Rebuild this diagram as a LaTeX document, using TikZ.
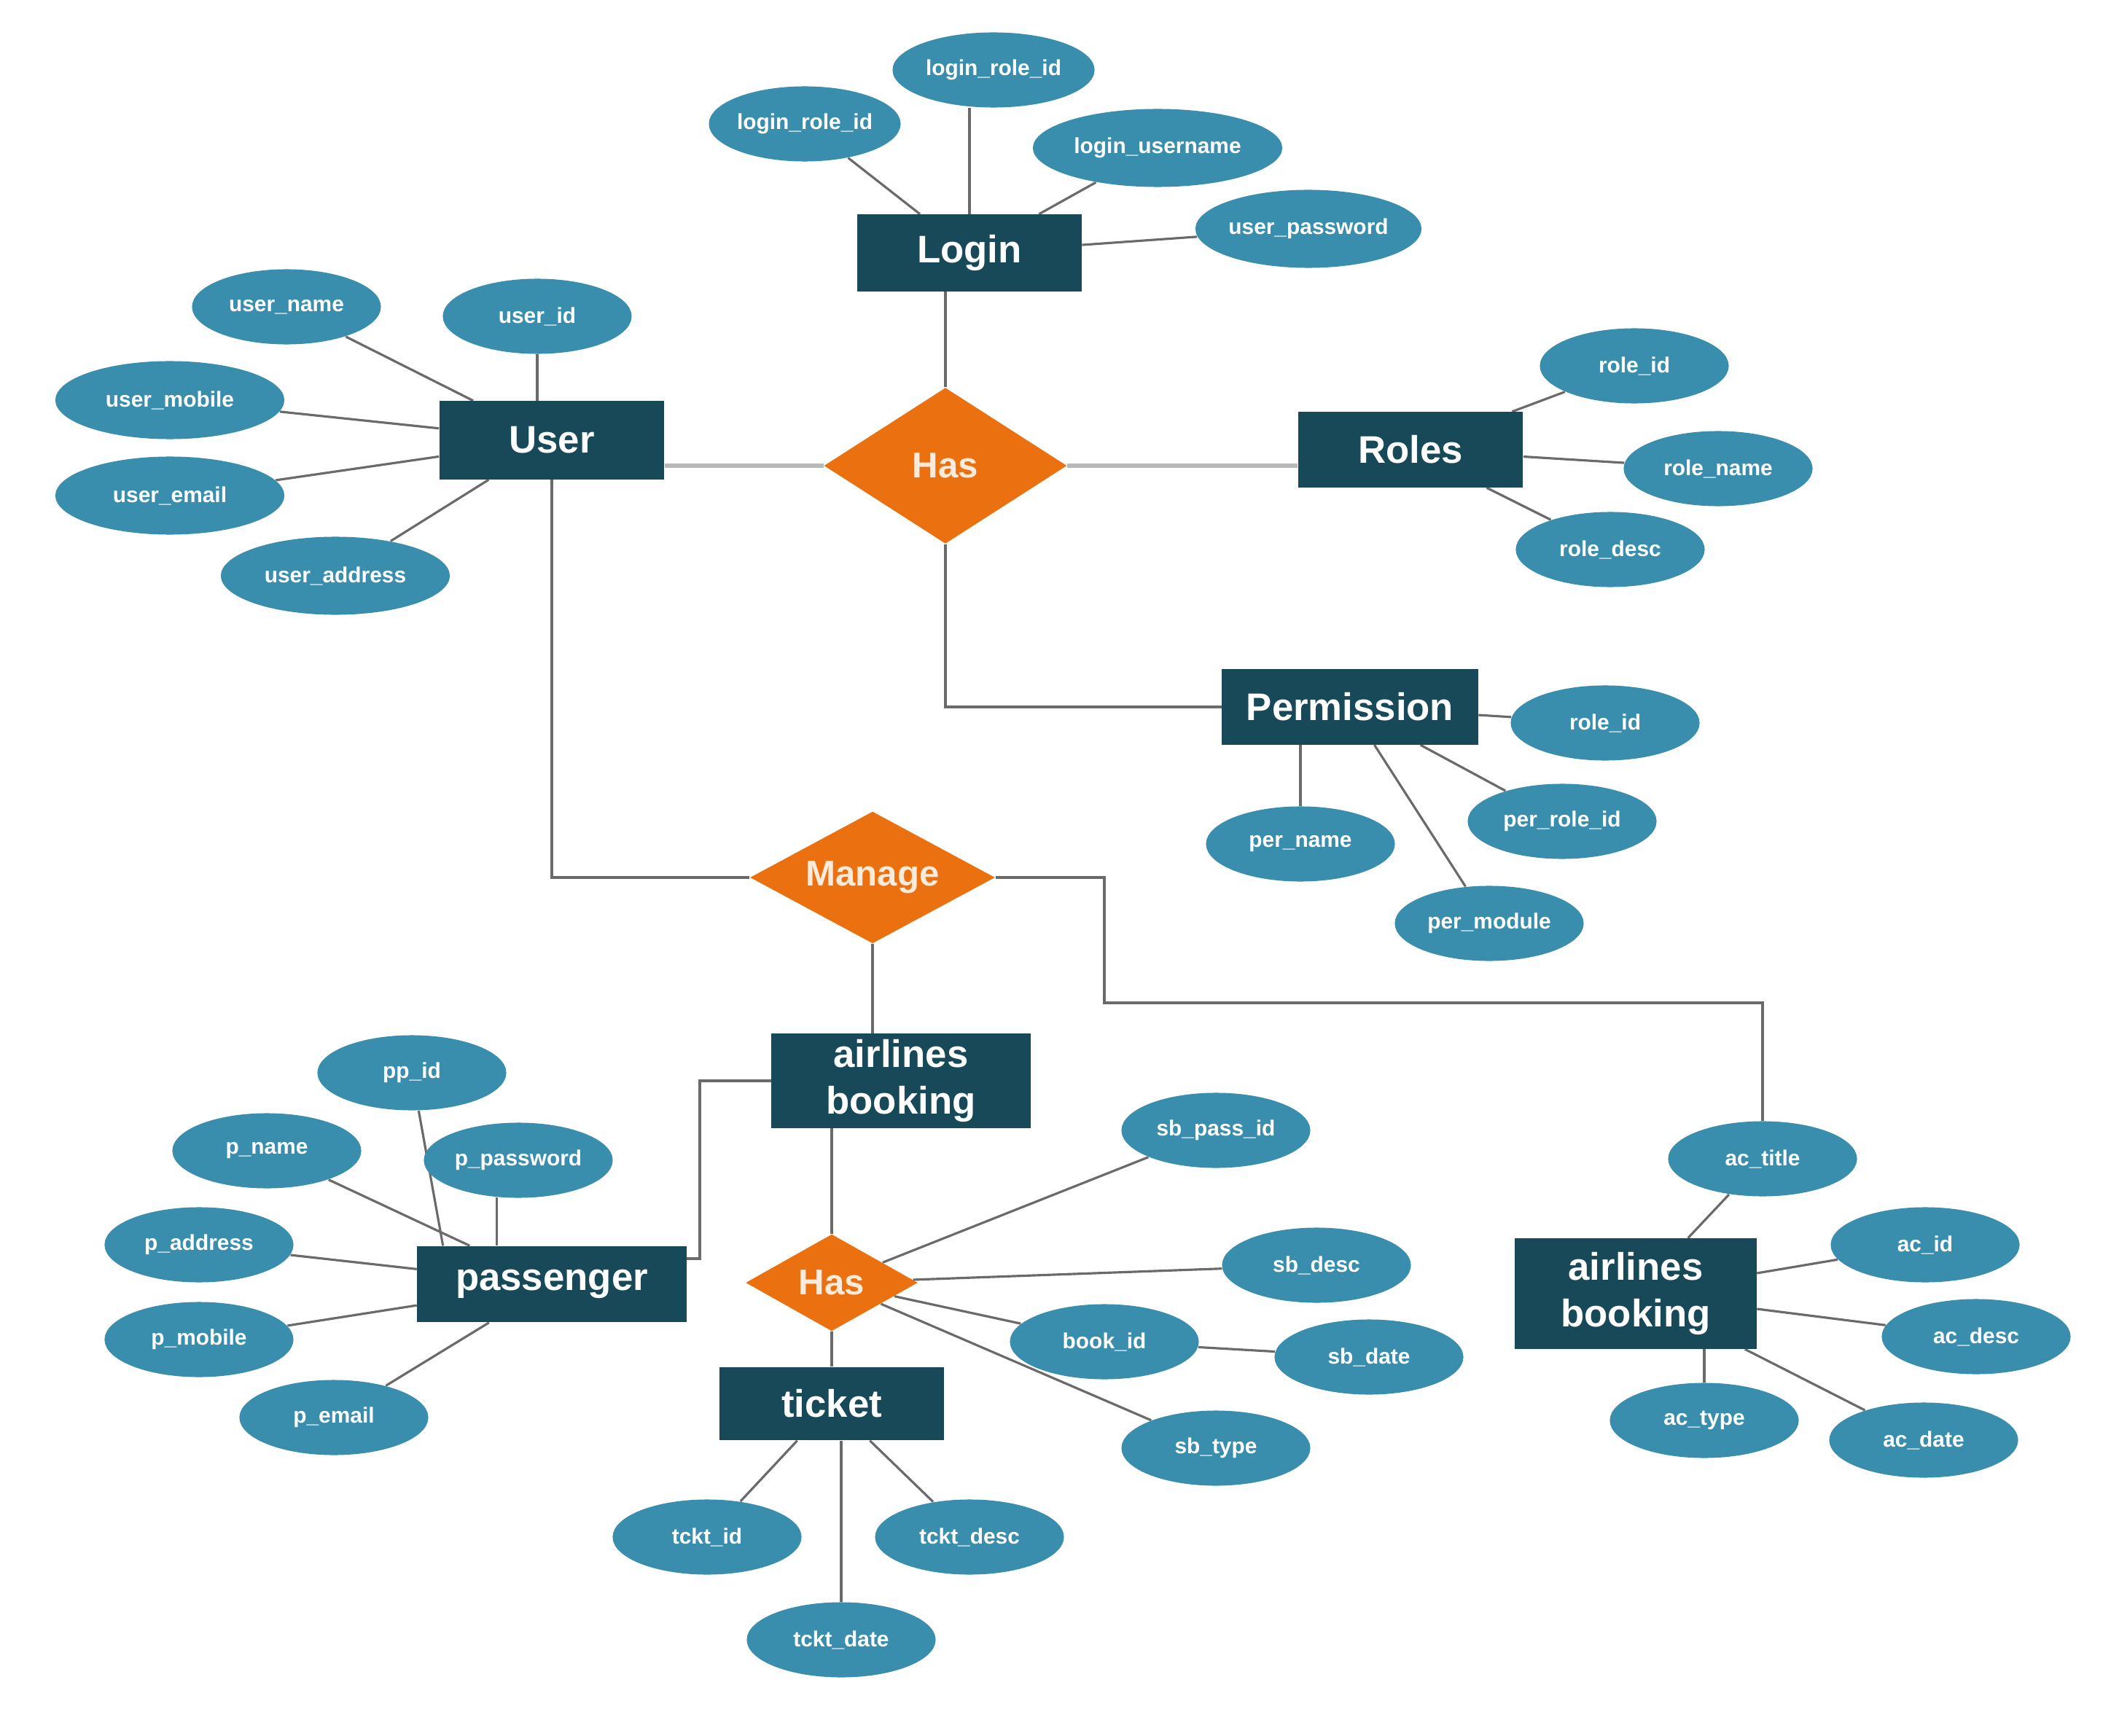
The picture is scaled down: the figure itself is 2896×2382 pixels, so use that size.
\documentclass[tikz,border=0pt]{standalone}
\usepackage{fontspec}
\setmainfont{Liberation Sans}
\usetikzlibrary{shapes.geometric,backgrounds}
\definecolor{entcol}{HTML}{174958}
\definecolor{attrcol}{HTML}{3A8EAD}
\definecolor{relcol}{HTML}{EB7110}
\definecolor{linecol}{HTML}{6A6A6A}
\tikzset{
  ent/.style={rectangle, fill=entcol, text=white, inner sep=0pt, align=center,
    font=\bfseries\fontsize{15}{18}\selectfont},
  attr/.style={ellipse, fill=attrcol, text=white, inner sep=0pt,
    minimum width=2.59cm, minimum height=1.03cm,
    font=\bfseries\fontsize{8.5}{10}\selectfont},
  rel/.style={diamond, fill=relcol, text=white!85!relcol, inner sep=0pt,
    font=\bfseries\fontsize{14}{16}\selectfont},
  link/.style={draw=linecol, line width=0.9pt},
  biglink/.style={draw=gray!55, line width=1.8pt},
}
\begin{document}
\begin{tikzpicture}[x=0.01cm,y=-0.01cm]
\useasboundingbox (0,0) rectangle (2896,2382);

% entities
\node[ent, minimum width=3.07cm, minimum height=1.05cm] (login) at (1330,347) {Login};
\node[ent, minimum width=3.08cm, minimum height=1.07cm] (user) at (757,604) {User};
\node[ent, minimum width=3.08cm, minimum height=1.03cm] (roles) at (1935,617) {Roles};
\node[ent, minimum width=3.51cm, minimum height=1.03cm] (perm) at (1852,970) {Permission};
\node[ent, minimum width=3.55cm, minimum height=1.29cm] (book) at (1236,1483) {airlines\\booking};
\node[ent, minimum width=3.69cm, minimum height=1.04cm] (pass) at (757,1762) {passenger};
\node[ent, minimum width=3.08cm, minimum height=1.00cm] (ticket) at (1141,1926) {ticket};
\node[ent, minimum width=3.31cm, minimum height=1.51cm] (acbook) at (2244,1775) {airlines\\booking};

% relationships
\node[rel, aspect=1.56, minimum width=3.33cm, minimum height=2.14cm] (has1) at (1297,639) {Has};
\node[rel, aspect=1.86, minimum width=3.36cm, minimum height=1.81cm] (manage) at (1197,1204) {Manage};
\node[rel, aspect=1.77, minimum width=2.36cm, minimum height=1.33cm] (has2) at (1141,1760) {Has};

% attributes of Login
\node[attr] (lrole) at (1104,170) {login\_role\_id};
\node[attr, minimum width=2.77cm] (lroletop) at (1363,96) {login\_role\_id};
\node[attr, minimum width=3.42cm, minimum height=1.07cm] (luser) at (1588,203) {login\_username};
\node[attr, minimum width=2.86cm, minimum height=1.07cm] (lpass) at (1795,314) {user\_password};

% attributes of User
\node[attr] (uname) at (393,421) {user\_name};
\node[attr] (uid) at (737,434) {user\_id};
\node[attr, minimum width=3.14cm, minimum height=1.07cm] (umob) at (233,549) {user\_mobile};
\node[attr, minimum width=3.14cm, minimum height=1.07cm] (uemail) at (233,680) {user\_email};
\node[attr, minimum width=3.14cm, minimum height=1.07cm] (uaddr) at (460,790) {user\_address};

% attributes of Roles
\node[attr] (rid) at (2242,502) {role\_id};
\node[attr] (rname) at (2357,643) {role\_name};
\node[attr] (rdesc) at (2209,754) {role\_desc};

% attributes of Permission
\node[attr] (prid) at (2202,992) {role\_id};
\node[attr] (prole) at (2143,1127) {per\_role\_id};
\node[attr] (pname) at (1784,1158) {per\_name};
\node[attr] (pmod) at (2043,1267) {per\_module};

% attributes of passenger
\node[attr] (ppid) at (565,1472) {pp\_id};
\node[attr] (pnm) at (366,1579) {p\_name};
\node[attr] (ppw) at (711,1592) {p\_password};
\node[attr] (padd) at (273,1708) {p\_address};
\node[attr] (pmob) at (273,1838) {p\_mobile};
\node[attr] (pem) at (458,1945) {p\_email};

% attributes of the lower Has
\node[attr] (sbpass) at (1668,1551) {sb\_pass\_id};
\node[attr] (sbdesc) at (1806,1736) {sb\_desc};
\node[attr] (bookid) at (1515,1841) {book\_id};
\node[attr] (sbdate) at (1878,1862) {sb\_date};
\node[attr] (sbtype) at (1668,1987) {sb\_type};

% attributes of ticket
\node[attr] (tid) at (970,2109) {tckt\_id};
\node[attr] (tdesc) at (1330,2109) {tckt\_desc};
\node[attr] (tdate) at (1154,2250) {tckt\_date};

% attributes of the right airlines booking
\node[attr] (actitle) at (2418,1590) {ac\_title};
\node[attr] (acid) at (2641,1708) {ac\_id};
\node[attr] (acdesc) at (2711,1834) {ac\_desc};
\node[attr] (actype) at (2338,1949) {ac\_type};
\node[attr] (acdate) at (2639,1976) {ac\_date};

\coordinate (mturn) at (1515,1376);
\coordinate (bturn) at (960,1727);

\begin{pgfonlayer}{background}
  \fill[white] (0,0) rectangle (2896,2382);
  % Login
  \draw[link] (lrole) -- (login);
  \draw[link] (login.north) -- (login.north |- lroletop.south);
  \draw[link] (luser) -- (login);
  \draw[link] (lpass) -- (login);
  \draw[link] (has1.north) -- (has1.north |- login.south);
  % User
  \draw[link] (uname) -- (user);
  \draw[link] (uid) -- (uid |- user.north);
  \draw[link] (umob) -- (user);
  \draw[link] (uemail) -- (user);
  \draw[link] (uaddr) -- (user);
  \draw[biglink] (has1.west) -- (has1.west -| user.east);
  \draw[biglink] (has1.east) -- (has1.east -| roles.west);
  % Roles
  \draw[link] (rid) -- (roles);
  \draw[link] (rname) -- (roles);
  \draw[link] (rdesc) -- (roles);
  % Permission
  \draw[link] (has1.south) |- (perm.west);
  \draw[link] (prid) -- (perm);
  \draw[link] (prole) -- (perm);
  \draw[link] (pname) -- (pname |- perm.south);
  \draw[link] (pmod) -- (perm);
  % Manage
  \draw[link] (user.south) |- (manage.west);
  \draw[link] (manage.south) -- (manage.south |- book.north);
  \draw[link] (manage.east) -| (mturn) -| (actitle.north);
  % booking and passenger
  \draw[link] (book.west) -| (bturn) -- (bturn -| pass.east);
  \draw[link] (has2.north) -- (has2.north |- book.south);
  \draw[link] (has2.south) -- (has2.south |- ticket.north);
  \draw[link] (ppid) -- ([xshift=0.36cm]pass.north west);
  \draw[link] (pnm) -- (pass);
  \draw[link] (ppw.240) -- (ppw.240 |- pass.north);
  \draw[link] (padd) -- (pass);
  \draw[link] (pmob) -- (pass);
  \draw[link] (pem) -- (pass);
  % lower Has
  \draw[link] (sbpass) -- (has2);
  \draw[link] (sbdesc) -- (has2);
  \draw[link] (bookid) -- (has2);
  \draw[link] (sbtype) -- (has2);
  \draw[link] (bookid) -- (sbdate);
  % ticket
  \draw[link] (tid) -- (ticket);
  \draw[link] (tdesc) -- (ticket);
  \draw[link] (tdate) -- (tdate |- ticket.south);
  % right airlines booking
  \draw[link] (actitle) -- (acbook);
  \draw[link] (acid) -- (acbook);
  \draw[link] (acdesc) -- (acbook);
  \draw[link] (actype) -- (actype |- acbook.south);
  \draw[link] (acdate) -- (acbook);
\end{pgfonlayer}
\end{tikzpicture}
\end{document}
